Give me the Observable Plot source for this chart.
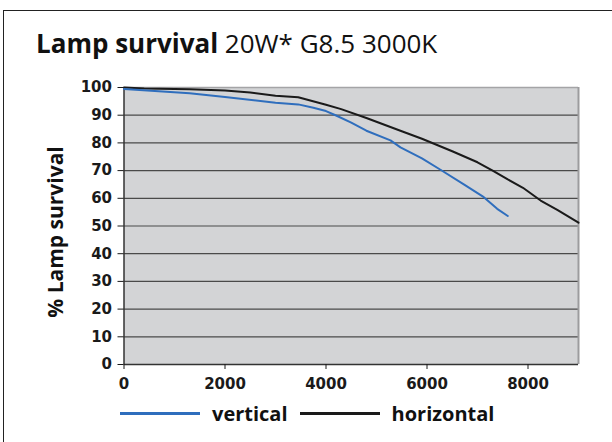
<!DOCTYPE html>
<html>
<head>
<meta charset="utf-8">
<script src="https://cdn.jsdelivr.net/npm/d3@7"></script>
<script src="https://cdn.jsdelivr.net/npm/@observablehq/plot@0.6"></script>
<style>
  html, body { margin: 0; padding: 0; background: #fff; overflow: hidden; }
  #wrap { position: relative; width: 612px; height: 442px; overflow: hidden; background: #fff; }
  #ftop { position: absolute; left: 3px; top: 10px; width: 620px; height: 0; border-top: 1.5px solid #222; }
  #fleft { position: absolute; left: 3px; top: 10px; width: 0; height: 440px; border-left: 1.5px solid #222; }
  #title { position: absolute; left: 36px; top: 25px; font-family: "Open Sans", sans-serif; font-size: 26px; color: #111; white-space: nowrap; }
  #title b { font-weight: 700; }
  #chart { position: absolute; left: 0; top: 0; }
  #chart svg text { font-weight: bold; font-family: "DejaVu Sans", sans-serif; font-size: 15px; }
  #ylabel { position: absolute; left: 55px; top: 232px; transform: translate(-50%, -50%) rotate(-90deg); font-family: "Open Sans", sans-serif; font-weight: 700; font-size: 21px; color: #111; white-space: nowrap; }
  #legend { position: absolute; left: 120px; top: 400px; font-family: "Open Sans", sans-serif; font-weight: 700; font-size: 20px; color: #111; display: flex; align-items: center; white-space: nowrap; }
  .sw { display: inline-block; width: 80px; height: 3px; margin-right: 12px; }
  .lab { margin-right: 12px; }
</style>
</head>
<body>
<div id="wrap">
  <div id="ftop"></div>
  <div id="fleft"></div>
  <div id="title"><b>Lamp survival</b> 20W* G8.5 3000K</div>
  <div id="chart"></div>
  <div id="ylabel">% Lamp survival</div>
  <div id="legend"></div>
</div>
<script>
// Series names and colours
const seriesNames = ["vertical", "horizontal"];
const seriesColors = ["#2f6ebd", "#1a1a1a"];

// Burning hours and % survival
const verticalHours    = [0, 1300, 2000, 3000, 3450, 3750, 4000, 4200, 4500, 4800, 5277, 5475, 5900, 6267, 6729, 7125, 7390, 7600];
const verticalSurvival = [99.5, 97.9, 96.6, 94.5, 93.9, 92.7, 91.5, 89.9, 87.3, 84.4, 80.9, 78.4, 74.4, 70.3, 65.0, 60.4, 56.2, 53.6];

const horizontalHours    = [0, 400, 1300, 2000, 2500, 3000, 3450, 4000, 4300, 4800, 5500, 5900, 6500, 7000, 7300, 7600, 7900, 8250, 8580, 9000];
const horizontalSurvival = [100, 99.6, 99.4, 98.9, 98.2, 97.0, 96.5, 93.8, 92.2, 89.0, 84.2, 81.5, 77.0, 73.0, 70.0, 66.8, 63.8, 59.2, 55.8, 51.2];

// Axis ticks
const xTicks = [0, 2000, 4000, 6000, 8000];
const yTicks = [0, 10, 20, 30, 40, 50, 60, 70, 80, 90, 100];

const vertical = verticalHours.map((h, i) => ({hours: h, survival: verticalSurvival[i]}));
const horizontal = horizontalHours.map((h, i) => ({hours: h, survival: horizontalSurvival[i]}));

const chart = Plot.plot({
  width: 612,
  height: 442,
  marginLeft: 123.5,
  marginRight: 34,
  marginTop: 87,
  marginBottom: 78,
  style: { fontFamily: "DejaVu Sans, sans-serif", fontSize: "15px", color: "#1a1a1a", background: "transparent", overflow: "visible" },
  x: { domain: [0, 9000] },
  y: { domain: [0, 100] },
  marks: [
    Plot.frame({ fill: "#d3d4d6", stroke: "none" }),
    Plot.ruleY(yTicks.filter(d => d > 0 && d < 100), { stroke: "#4a4a4a", strokeWidth: 1.2 }),
    Plot.ruleY([100], { stroke: "#a4a4a6", strokeWidth: 1.5 }),
    Plot.ruleX([9000], { stroke: "#9c9c9e", strokeWidth: 2 }),
    Plot.ruleY([0], { stroke: "#333", strokeWidth: 1.5 }),
    Plot.ruleX([0], { stroke: "#333", strokeWidth: 1.5 }),
    Plot.axisY({ ticks: yTicks, tickSize: 6, tickPadding: 6, label: null, fontSize: 15, fontWeight: "bold", tickFormat: d => String(d) }),
    Plot.axisX({ ticks: xTicks, tickSize: 5, tickPadding: 9, label: null, fontSize: 15, fontWeight: "bold", tickFormat: d => String(d) }),
    Plot.line(horizontal, { x: "hours", y: "survival", stroke: seriesColors[1], strokeWidth: 2, curve: "linear" }),
    Plot.line(vertical, { x: "hours", y: "survival", stroke: seriesColors[0], strokeWidth: 2, curve: "linear" })
  ]
});
document.getElementById("chart").appendChild(chart);

const legend = document.getElementById("legend");
seriesNames.forEach((name, i) => {
  const sw = document.createElement("span");
  sw.className = "sw";
  sw.style.background = seriesColors[i];
  legend.appendChild(sw);
  const lab = document.createElement("span");
  lab.className = "lab";
  lab.textContent = name;
  legend.appendChild(lab);
});
</script>
</body>
</html>
